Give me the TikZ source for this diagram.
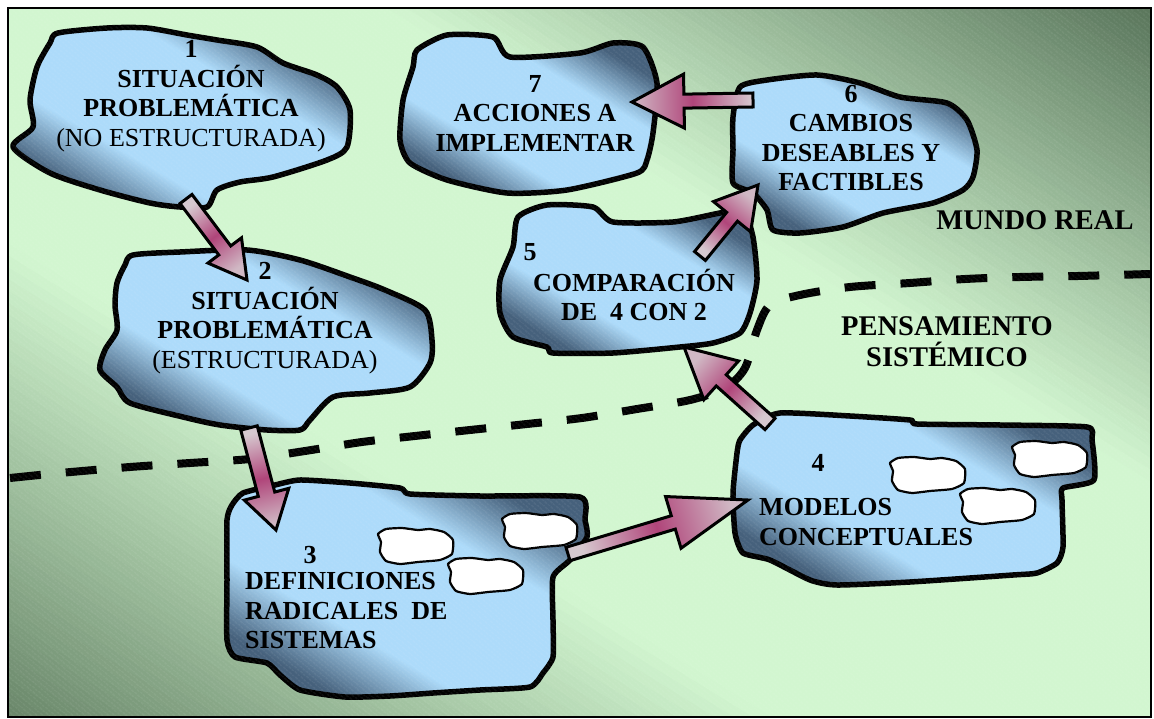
\documentclass[tikz,border=0pt]{standalone}
\usepackage{fontspec}
\setmainfont{Liberation Serif}
\usetikzlibrary{calc,patterns.meta}

\definecolor{bgdark}{HTML}{5A765C}
\definecolor{bgdarkB}{HTML}{6A876A}
\definecolor{bglight}{HTML}{D2F6D0}
\definecolor{blobdark}{HTML}{46617C}
\definecolor{bloblight}{HTML}{ADDBFA}
\definecolor{arrlight}{HTML}{D6C8CF}
\definecolor{arrtip}{HTML}{D0B8C4}
\definecolor{arrmid}{HTML}{B0457A}

\pgfdeclareverticalshading{blobshade}{100bp}{color(0bp)=(blobdark); color(26bp)=(blobdark); color(38bp)=(bloblight); color(62bp)=(bloblight); color(74bp)=(blobdark); color(100bp)=(blobdark)}

% fat block arrow: tail, tip, shaft half width, head half width, head length
\newcommand\fatarrow[5]{%
  \pgfmathanglebetweenpoints{\pgfpointanchor{#2}{center}}{\pgfpointanchor{#1}{center}}%
  \pgfmathsetmacro\arrowshadeangle{\pgfmathresult-90}%
  \coordinate (hb) at ($(#2)!#5!(#1)$);%
  \shade[arrowbody, shading angle=\arrowshadeangle]
    ($(#1)!#3!90:(#2)$) -- ($(hb)!#3!90:(#2)$) -- ($(hb)!#4!90:(#2)$) -- (#2)
    -- ($(hb)!#4!-90:(#2)$) -- ($(hb)!#3!-90:(#2)$) -- ($(#1)!#3!-90:(#2)$) -- cycle;%
}

% one band of the field, parallel to the main diagonal, at offset #1 along the cross axis
\newcommand\fieldband[2]{%
  \fill[#2] ({579.5+(#1)*0.527-850},{362.5-(#1)*0.85-527})
    -- ({579.5+(#1)*0.527+850},{362.5-(#1)*0.85+527})
    -- ({579.5+(#1+11)*0.527+850},{362.5-(#1+11)*0.85+527})
    -- ({579.5+(#1+11)*0.527-850},{362.5-(#1+11)*0.85-527}) -- cycle;%
}

\tikzset{
  blob/.style={draw=black, line width=5.5pt, line join=round, shading=blobshade, shading angle=-30},
  arrowbody/.style={draw=black, line width=3pt, line join=miter, top color=arrlight, bottom color=arrtip, middle color=arrmid},
  dashline/.style={draw=black, line width=8pt, dash pattern=on 31pt off 25pt},
  blobtext/.style={font=\fontsize{26}{29.5}\selectfont\bfseries, align=center, inner sep=0pt, text=black},
  zonetext/.style={font=\fontsize{28.5}{31}\selectfont\bfseries, align=center, inner sep=0pt, text=black},
  pics/puff/.style={code={
    \filldraw[fill=white, draw=black, line width=2.2pt, line join=round]
      plot[smooth cycle, tension=0.3] coordinates {(0,6) (8,1) (24,0) (40,2) (52,1) (66,4) (75,12) (74,26) (62,32) (40,34) (22,36) (8,33) (2,24) (3,14)};
  }},
}

\begin{document}
\begin{tikzpicture}[x=1pt, y=-1pt]
\useasboundingbox (0,0) rectangle (1154,719);
\fill[white] (0,0) rectangle (1154,719);

% field: light along the main diagonal, darker toward the two other corners
\begin{scope}
  \clip (8,8) rectangle (1151,717);
  \foreach \p in {-620,-610,...,-10} {
    \pgfmathsetmacro\shadeamt{100*min(1,max(0,(abs(\p+5)-200)/400))}
    \fieldband{\p}{bgdarkB!\shadeamt!bglight}
  }
  \foreach \p in {0,10,...,620} {
    \pgfmathsetmacro\shadeamt{100*min(1,max(0,(abs(\p+5)-200)/400))}
    \fieldband{\p}{bgdark!\shadeamt!bglight}
  }
\end{scope}

% border between the real world and systems thinking
\draw[dashline] plot[smooth, tension=0.5] coordinates {(10,478) (60,473) (130,467) (190,463) (250,459) (305,451) (362,442) (415,436) (470,430) (527,424) (582,418) (637,409) (690,400) (725,388) (745,368) (757,330) (770,305) (800,295) (850,287) (910,283) (965,279) (1020,277) (1078,276) (1150,274)};

% 1
\shade[blob] plot[smooth cycle, tension=0.45] coordinates {(58,33) (107,28) (147,28) (187,35) (217,40) (257,47) (283,63) (317,75) (337,87) (350,110) (347,147) (327,160) (273,177) (240,182) (217,190) (207,207) (180,207) (150,203) (100,190) (50,173) (13,147) (33,127) (30,100) (37,67) (50,43)};
% 2
\shade[blob] plot[smooth cycle, tension=0.45] coordinates {(133,255) (180,252) (247,250) (300,260) (350,277) (385,290) (425,310) (432,340) (430,363) (410,387) (370,393) (333,397) (310,420) (300,430) (267,430) (220,425) (183,417) (130,403) (117,387) (100,370) (105,350) (117,330) (115,305) (117,283) (125,265)};
% 3
\shade[blob] plot[smooth cycle, tension=0.35] coordinates {(243,493) (275,485) (300,480) (350,483) (400,488) (410,494) (480,496) (580,497) (585,520) (587,537) (570,560) (553,577) (553,620) (553,657) (543,673) (530,687) (480,690) (433,693) (390,696) (345,697) (300,690) (280,675) (267,663) (235,657) (227,640) (227,580) (227,520) (232,505)};
% 4
\shade[blob] plot[smooth cycle, tension=0.35] coordinates {(740,440) (753,425) (780,413) (850,416) (910,420) (917,424) (1000,425) (1087,427) (1092,440) (1094,480) (1063,488) (1062,500) (1063,547) (1057,563) (1037,573) (1013,575) (910,582) (837,585) (810,580) (770,560) (743,553) (735,533) (733,493) (737,453)};
% 5
\shade[blob] plot[smooth cycle, tension=0.4] coordinates {(518,217) (547,205) (593,207) (613,222) (673,222) (720,213) (743,210) (753,237) (757,280) (750,313) (740,333) (713,343) (680,347) (613,353) (553,353) (547,347) (513,337) (500,313) (500,280) (513,247)};
% 6
\shade[blob] plot[smooth cycle, tension=0.4] coordinates {(740,87) (767,80) (817,75) (860,83) (900,97) (947,103) (967,120) (977,150) (973,177) (963,190) (933,203) (883,213) (843,227) (800,233) (773,230) (767,210) (753,193) (733,183) (733,150) (733,117)};
% 7
\shade[blob] plot[smooth cycle, tension=0.4] coordinates {(417,50) (447,35) (493,37) (510,57) (580,53) (613,43) (643,47) (657,83) (653,133) (647,160) (637,173) (567,190) (507,193) (447,180) (410,163) (400,140) (403,100) (413,67)};

% little systems inside 3 and 4
\pic at (378,528) {puff};
\pic at (502,513) {puff};
\pic at (448,558) {puff};
\pic at (890,457) {puff};
\pic at (1012,441) {puff};
\pic at (960,488) {puff};

% fine diagonal texture
\fill[pattern={Lines[angle=-40, distance=4pt, line width=0.6pt]}, pattern color=white, fill opacity=0.16] (8,8) rectangle (1151,717);
\draw[line width=2pt] (8,8) rectangle (1151,717);

% arrow ends
\coordinate (a1t) at (186,199);
\coordinate (a1p) at (247,280);
\coordinate (a2t) at (249,428);
\coordinate (a2p) at (276,530);
\coordinate (a3t) at (568,554);
\coordinate (a3p) at (748,500);
\coordinate (a4t) at (770,424);
\coordinate (a4p) at (684,347);
\coordinate (a5t) at (700,256);
\coordinate (a5p) at (758,185);
\coordinate (a6t) at (753,100);
\coordinate (a6p) at (632,102);

\fatarrow{a1t}{a1p}{7.5pt}{21pt}{37pt}
\fatarrow{a2t}{a2p}{8.5pt}{23pt}{37pt}
\fatarrow{a3t}{a3p}{7pt}{27pt}{78pt}
\fatarrow{a4t}{a4p}{7.5pt}{26pt}{50pt}
\fatarrow{a5t}{a5p}{7pt}{24pt}{41pt}
\fatarrow{a6t}{a6p}{7pt}{27pt}{52pt}

% texts
\node[blobtext] (t1) at (191,96) {1\\SITUACIÓN\\PROBLEMÁTICA\\{\mdseries(NO ESTRUCTURADA)}};
\node[blobtext] (t2) at (265,318) {2\\SITUACIÓN\\PROBLEMÁTICA\\{\mdseries(ESTRUCTURADA)}};
\node[blobtext] (n3) at (310,555) {3};
\node[blobtext, anchor=west, align=left] (t3) at (245,611) {DEFINICIONES\\RADICALES\ \ DE\\SISTEMAS};
\node[blobtext] (n4) at (818,463) {4};
\node[blobtext, anchor=west, align=left] (t4) at (759,522) {MODELOS\\CONCEPTUALES};
\node[blobtext] (n5) at (530,252) {5};
\node[blobtext] (t5) at (634,295) {COMPARACIÓN\\DE\ \ 4 CON 2};
\node[blobtext] (t6) at (851,138) {6\\CAMBIOS\\DESEABLES Y\\FACTIBLES};
\node[blobtext] (t7) at (535,113) {7\\ACCIONES A\\IMPLEMENTAR};
\node[zonetext] (real) at (1035,220) {MUNDO REAL};
\node[zonetext] (think) at (947,342) {PENSAMIENTO\\SISTÉMICO};
\end{tikzpicture}
\end{document}
